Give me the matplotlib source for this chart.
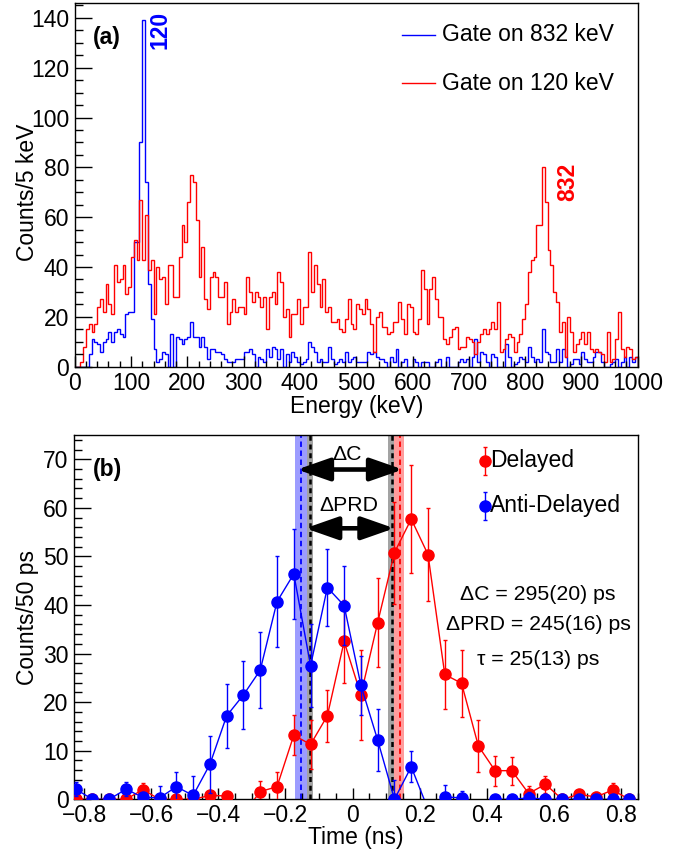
import numpy as np
import matplotlib
matplotlib.use("Agg")
import matplotlib.pyplot as plt
from matplotlib.ticker import MultipleLocator, FuncFormatter

plt.rcParams['font.family'] = ['Liberation Sans', 'DejaVu Sans']

# (a) gamma spectra, 5 keV bins from 0 to 1000 keV
bin_edges = np.arange(0, 1005, 5)
gate_120 = [
    0, 0, 2, 8, 15, 17, 14, 17, 24, 27,
    22, 33, 25, 21, 41, 34, 35, 41, 29, 32,
    44, 51, 43, 67, 43, 61, 39, 43, 21, 40,
    35, 36, 25, 41, 41, 28, 28, 44, 57, 50,
    66, 77, 74, 59, 36, 48, 27, 23, 36, 38,
    36, 28, 28, 34, 17, 22, 27, 22, 24, 24,
    21, 36, 30, 26, 30, 28, 24, 28, 15, 28,
    30, 25, 38, 34, 20, 23, 12, 21, 21, 27,
    17, 24, 24, 46, 30, 41, 33, 24, 35, 22,
    24, 18, 18, 19, 15, 14, 19, 27, 17, 15,
    25, 23, 21, 27, 23, 17, 6, 20, 22, 16,
    16, 13, 14, 18, 18, 26, 19, 13, 25, 24,
    14, 13, 19, 39, 31, 17, 31, 36, 27, 20,
    20, 11, 9, 12, 15, 16, 7, 8, 8, 12,
    11, 10, 5, 10, 13, 15, 13, 15, 18, 15,
    26, 6, 7, 11, 13, 12, 6, 10, 13, 19,
    25, 38, 43, 44, 57, 57, 80, 66, 47, 41,
    30, 26, 14, 18, 4, 20, 14, 6, 9, 11,
    14, 9, 14, 7, 6, 7, 6, 5, 2, 14,
    2, 3, 11, 22, 7, 4, 8, 7, 3, 4,
]
gate_832 = [
    0, 0, 0, 0, 0, 5, 11, 10, 9, 6,
    10, 11, 14, 10, 14, 15, 13, 12, 21, 22,
    22, 50, 50, 90, 139, 74, 33, 19, 7, 2,
    3, 6, 5, 0, 13, 0, 12, 11, 9, 11,
    12, 18, 12, 12, 8, 12, 8, 3, 7, 7,
    6, 6, 5, 3, 2, 2, 2, 3, 3, 3,
    6, 6, 7, 5, 0, 4, 3, 2, 7, 4,
    8, 7, 3, 7, 0, 5, 2, 6, 4, 2,
    1, 2, 3, 10, 8, 6, 2, 3, 2, 2,
    8, 3, 1, 2, 3, 2, 6, 2, 3, 4,
    2, 2, 2, 2, 6, 5, 6, 4, 3, 3,
    2, 0, 4, 2, 7, 0, 2, 3, 0, 0,
    3, 2, 0, 2, 2, 2, 0, 0, 2, 3,
    0, 0, 4, 0, 0, 0, 2, 3, 2, 3,
    0, 4, 11, 2, 6, 5, 2, 0, 5, 4,
    0, 0, 0, 9, 4, 0, 1, 2, 4, 3,
    2, 8, 4, 2, 3, 2, 15, 6, 5, 2,
    2, 7, 2, 7, 4, 0, 1, 3, 3, 1,
    6, 3, 2, 2, 4, 6, 6, 2, 0, 0,
    1, 2, 3, 0, 2, 4, 0, 4, 2, 4,
]

# (b) time distributions, 50 ps bins (negative bins fall below the axis)
time_ns = [-0.825, -0.775, -0.725, -0.675, -0.625, -0.575, -0.525, -0.475,
           -0.425, -0.375, -0.325, -0.275, -0.225, -0.175, -0.125, -0.075,
           -0.025, 0.025, 0.075, 0.125, 0.175, 0.225, 0.275, 0.325,
           0.375, 0.425, 0.475, 0.525, 0.575, 0.625, 0.675, 0.725,
           0.775, 0.825]
delayed = [0, 0, 0, 0, 2.0, 0, 0, 0, 0.8, 0.7, -3.0, 1.6, 2.6, 13.2, 11.3,
           17.2, 32.5, 21.5, 36.4, 50.8, 57.7, 50.4, 25.7, 23.9, 11.0, 5.9,
           5.9, 1.2, 3.1, 0, 1.0, 0.5, 1.9, 0]
delayed_err = [0, 0, 0, 0, 1.4, 0, 0, 0, 0, 0, 0, 2.2, 3.0, 4.1, 5.0, 5.4,
               8.5, 9.3, 9.1, 10.5, 11.1, 9.5, 7.2, 6.9, 5.3, 3.1, 2.9, 1.5,
               1.7, 0, 0.8, 1.0, 1.4, 0]
anti_delayed = [2.1, 0, 0, 2.1, 0.4, 0.3, 2.6, 0.8, 7.2, 17.2, 21.5, 26.6,
                40.7, 46.4, 27.5, 43.6, 39.9, 23.5, 12.2, 0, 6.7, -2.0, 0.5,
                0.3, -2.0, 0, 0, 0.3, 0, 0, 0, 0, 0, 0]
anti_delayed_err = [1.4, 0, 0, 1.4, 0, 2.5, 3.0, 4.0, 5.9, 6.6, 7.0, 7.8,
                    9.3, 9.2, 8.5, 8.0, 8.2, 6.1, 6.3, 4.0, 3.2, 0, 2.5, 1.5,
                    0, 0, 0, 1.2, 0, 0, 0, 0, 0, 0]

# centroid positions (ns) and their uncertainty bands
centroid_anti = -0.153
centroid_del = 0.142
prd_left = -0.1275
prd_right = 0.1175
band_anti = (-0.170, -0.137)
band_del = (0.125, 0.152)
band_prd_left = (-0.137, -0.119)
band_prd_right = (0.107, 0.125)

FS = 16.5
FS_SMALL = 15.3


def root_label(v, pos):
    if abs(v) < 1e-9:
        return '0'
    return ('%g' % round(v, 6)).replace('-', '\u2212')


def style_axis(ax, xmaj, xmin, ymaj, ymin):
    ax.xaxis.set_major_locator(MultipleLocator(xmaj))
    ax.xaxis.set_minor_locator(MultipleLocator(xmin))
    ax.yaxis.set_major_locator(MultipleLocator(ymaj))
    ax.yaxis.set_minor_locator(MultipleLocator(ymin))
    ax.xaxis.set_major_formatter(FuncFormatter(root_label))
    ax.tick_params(axis='both', which='both', direction='in', top=False,
                   right=False, labelsize=FS, width=1)
    ax.tick_params(axis='x', which='major', length=7.9, pad=3.5)
    ax.tick_params(axis='x', which='minor', length=4)
    ax.tick_params(axis='y', which='major', length=12.2, pad=4)
    ax.tick_params(axis='y', which='minor', length=6.1)
    for s in ax.spines.values():
        s.set_linewidth(1)


fig = plt.figure(figsize=(6.86, 8.49), dpi=100)

# ---------- panel (a) ----------
ax1 = fig.add_axes([0.1089, 0.5681, 0.8207, 0.4284])
ax1.stairs(gate_832, bin_edges, color='blue', lw=1, baseline=0)
ax1.stairs(gate_120, bin_edges, color='red', lw=1, baseline=0)
ax1.set_xlim(0, 1000)
ax1.set_ylim(0, 146)
style_axis(ax1, 100, 20, 20, 5)
ax1.set_xlabel('Energy (keV)', fontsize=FS)
ax1.set_ylabel('Counts/5 keV', fontsize=FS)
ax1.xaxis.set_label_coords(0.5, -0.078)
ax1.yaxis.set_label_coords(-0.063, 0.48)

ax1.text(0.033, 0.906, '(a)', transform=ax1.transAxes, fontsize=FS,
         fontweight='bold', va='center', ha='left')
ax1.text(152, 135, '120', color='blue', fontsize=FS, fontweight='bold',
         rotation=90, ha='center', va='center')
ax1.text(876, 74, '832', color='red', fontsize=FS, fontweight='bold',
         rotation=90, ha='center', va='center')

for ypos, col, lab in [(0.912, 'blue', 'Gate on 832 keV'),
                       (0.779, 'red', 'Gate on 120 keV')]:
    ax1.plot([0.581, 0.640], [ypos, ypos], color=col, lw=1,
             transform=ax1.transAxes)
    ax1.text(0.652, ypos, lab, transform=ax1.transAxes, fontsize=FS,
             va='center', ha='left')

# ---------- panel (b) ----------
ax2 = fig.add_axes([0.1079, 0.0585, 0.8217, 0.4291])
ax2.set_xlim(-0.83, 0.85)
ax2.set_ylim(0, 75)

ax2.axvspan(*band_anti, color='#9c9cff', lw=0, zorder=1)
ax2.axvspan(*band_prd_left, color='#a3a3a3', lw=0, zorder=1)
ax2.axvspan(*band_prd_right, color='#a3a3a3', lw=0, zorder=1)
ax2.axvspan(*band_del, color='#ff9c9c', lw=0, zorder=1)
ax2.axvline(centroid_anti, color='blue', ls=(0, (3, 2)), lw=1.3, zorder=2)
ax2.axvline(centroid_del, color='red', ls=(0, (3, 2)), lw=1.3, zorder=2)
ax2.axvline(prd_left, color='black', ls=(0, (2, 1.5)), lw=1.8, zorder=2)
ax2.axvline(prd_right, color='black', ls=(0, (2, 1.5)), lw=1.8, zorder=2)

ax2.plot(time_ns, delayed, color='red', lw=1, zorder=3)
ax2.errorbar(time_ns, delayed, yerr=delayed_err, fmt='o', color='red',
             ms=8, capsize=1.6, elinewidth=1, zorder=4)
ax2.plot(time_ns, anti_delayed, color='blue', lw=1, zorder=5)
ax2.errorbar(time_ns, anti_delayed, yerr=anti_delayed_err, fmt='o',
             color='blue', ms=8, capsize=1.6, elinewidth=1, zorder=6)

arrow = dict(arrowstyle='<|-|>,head_length=2.0,head_width=0.7', lw=3.3,
             color='black', shrinkA=0, shrinkB=0, mutation_scale=10)
ax2.annotate('', xy=(centroid_del + 0.008, 67.9),
             xytext=(centroid_anti - 0.012, 67.9), arrowprops=arrow, zorder=7)
ax2.annotate('', xy=(prd_right + 0.007, 55.8),
             xytext=(prd_left - 0.013, 55.8), arrowprops=arrow, zorder=7)
ax2.text(-0.017, 71.0, '\u0394C', fontsize=FS_SMALL, ha='center',
         va='center')
ax2.text(-0.010, 60.5, '\u0394PRD', fontsize=FS_SMALL, ha='center',
         va='center')

style_axis(ax2, 0.2, 0.05, 10, 2)
ax2.set_xlabel('Time (ns)', fontsize=FS)
ax2.set_ylabel('Counts/50 ps', fontsize=FS)
ax2.xaxis.set_label_coords(0.5, -0.073)
ax2.yaxis.set_label_coords(-0.063, 0.5)
ax2.text(0.033, 0.906, '(b)', transform=ax2.transAxes, fontsize=FS,
         fontweight='bold', va='center', ha='left')

for ypos, col, lab in [(69.7, 'red', 'Delayed'),
                       (60.4, 'blue', 'Anti-Delayed')]:
    ax2.errorbar([0.395], [ypos], yerr=[2.9], fmt='o', color=col, ms=8,
                 capsize=1.6, elinewidth=1, zorder=6)
    ax2.text(0.411, ypos, lab, fontsize=FS, va='center', ha='left')

ax2.text(0.553, 42.1, '\u0394C = 295(20) ps', fontsize=FS_SMALL,
         ha='center', va='center')
ax2.text(0.553, 35.9, '\u0394PRD = 245(16) ps', fontsize=FS_SMALL,
         ha='center', va='center')
ax2.text(0.553, 28.8, '\u03c4 = 25(13) ps', fontsize=FS_SMALL,
         ha='center', va='center')

fig.savefig('out.png', dpi=100)
